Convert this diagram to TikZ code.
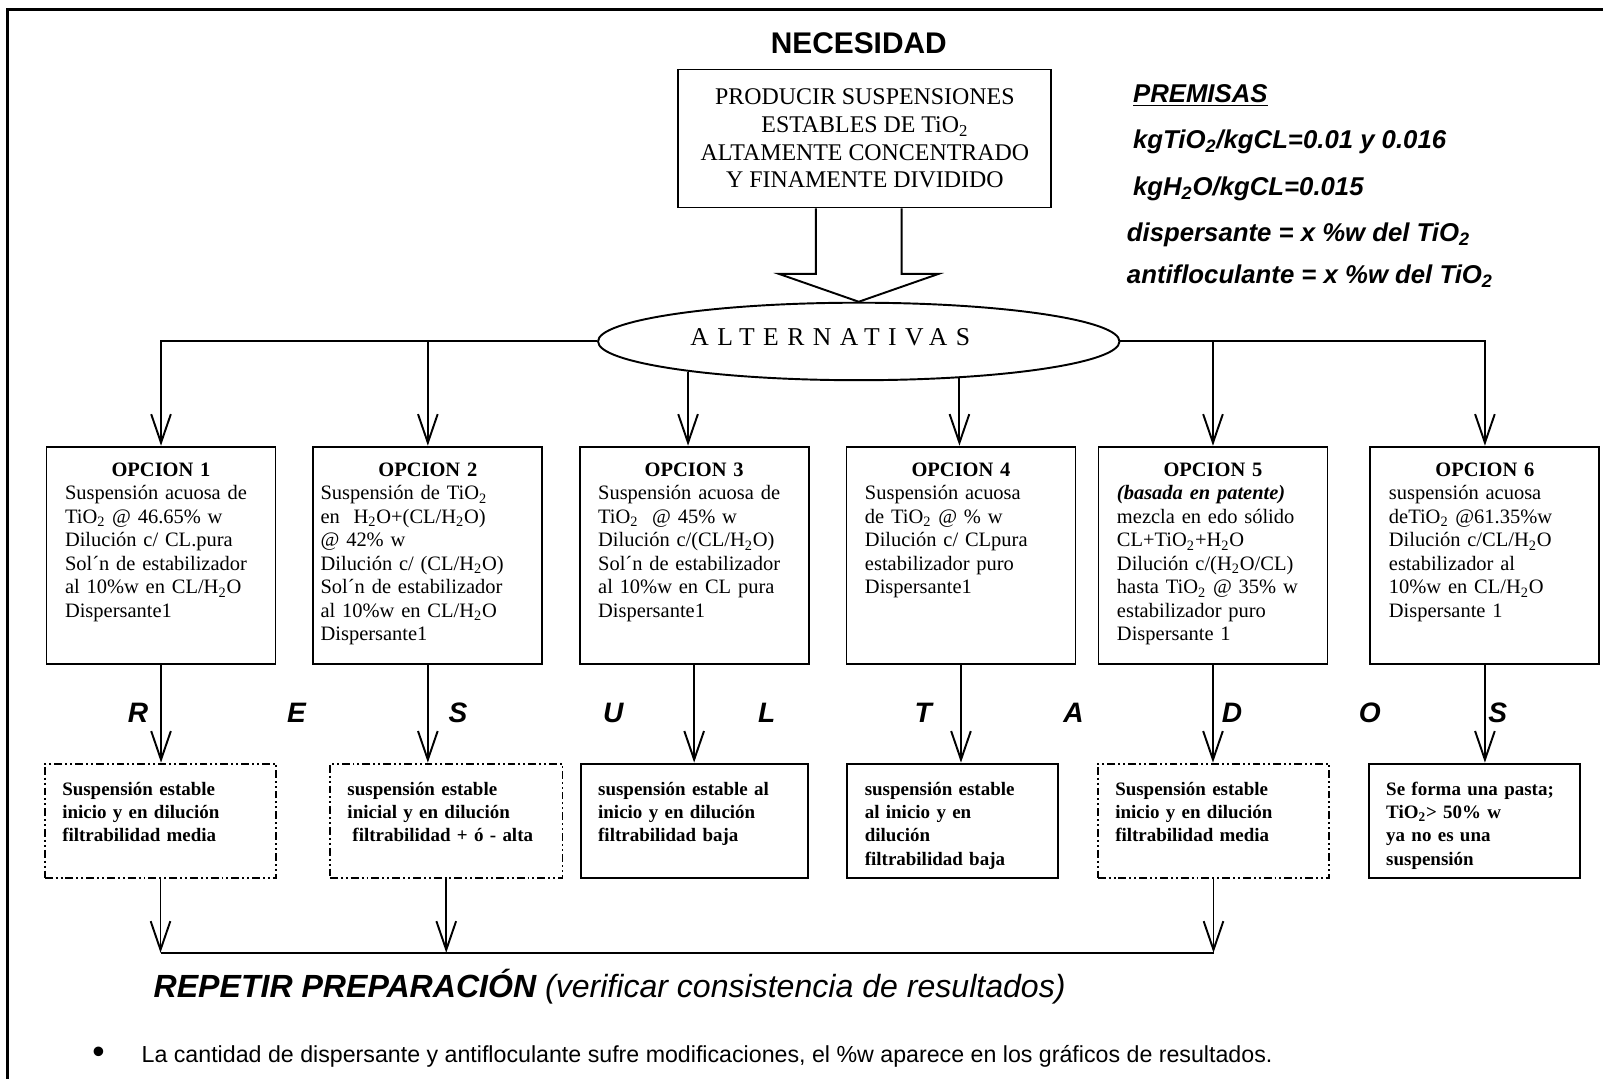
\documentclass[tikz,border=0pt]{standalone}
\usepackage{fontspec}
\setmainfont{Liberation Serif}
\newfontfamily\arialfont{Liberation Sans}
\usetikzlibrary{arrows.meta,shapes.geometric,calc}
\newcommand{\tio}{TiO\textsubscript{2}}
\newcommand{\hdo}{H\textsubscript{2}O}
\tikzset{box/.style={draw, line width=1.1pt},
opt/.style={box, anchor=north, align=left, text width=3.84cm, inner xsep=0.37cm,
  inner ysep=0.164cm, text height=0.43cm, text depth=3.58cm,
  font=\fontsize{11.65pt}{13.37pt}\selectfont},
res/.style={box, anchor=north, align=left, inner xsep=0.35cm, inner ysep=0.204cm,
  text height=0.43cm, text depth=1.45cm, font=\fontsize{10.8pt}{13.26pt}\selectfont\bfseries},
dashdotbox/.style={dash pattern=on 4.5pt off 1.7pt on 1.1pt off 1.7pt on 1.1pt off 1.7pt},
letter/.style={font=\arialfont\fontsize{16pt}{16pt}\selectfont\bfseries\itshape},
prem/.style={anchor=west, inner sep=0pt, font=\arialfont\fontsize{14.65pt}{16pt}\selectfont\bfseries\itshape},
arr/.style={->, line width=1.1pt},
>={Straight Barb[length=16.3pt,width=11.2pt]}}

\begin{document}
\begin{tikzpicture}[x=0.02044cm, y=-0.02044cm]
        \useasboundingbox (0,0) rectangle (1568,1055);
        \draw[line width=1.6pt] (7,1055) -- (7,9) -- (1568,9);

        \node[font=\arialfont\fontsize{17pt}{17pt}\selectfont\bfseries] (nec) at (840,42) {NECESIDAD};
        \node[box, align=center, minimum width=7.46cm, minimum height=2.76cm,
              font=\fontsize{13.6pt}{15.7pt}\selectfont] (prod) at (846,135.5)
              {PRODUCIR SUSPENSIONES\\ESTABLES DE \tio\\ALTAMENTE CONCENTRADO\\Y FINAMENTE DIVIDIDO};
        \node[box, ellipse, minimum width=10.43cm, minimum height=1.55cm, inner sep=0pt,
              font=\fontsize{14.6pt}{16pt}\selectfont] (alt) at (840,334)
              {\hspace*{-1.14cm}\raisebox{5pt}{\addfontfeature{LetterSpace=33}ALTERNATIVAS}};

        \node[prem] (prem0) at (1108,93) {\underline{PREMISAS}};
        \node[prem] (prem1) at (1108,139) {kg\tio/kgCL=0.01 y 0.016};
        \node[prem] (prem2) at (1108,185) {kg\hdo/kgCL=0.015};
        \node[prem] (prem3) at (1102,230) {dispersante = x \%w del \tio};
        \node[prem] (prem4) at (1102,270) {antifloculante = x \%w del \tio};

        % opciones
        \node[opt] (op1) at (157.5,436) {\hfill\textbf{OPCION 1}\hfill\null\\
              Suspensión acuosa de\\ \tio{} @ 46.65\% w\\ Dilución c/ CL.pura\\
              Sol´n de estabilizador\\ al 10\%w en CL/\hdo\\ Dispersante1};
        \node[opt, inner xsep=0.143cm, text width=4.29cm] (op2) at (418.5,436) {\hfill\textbf{OPCION 2}\hfill\null\\
              Suspensión de \tio\\ en \ \hdo+(CL/\hdo)\\ @ 42\% w\\ Dilución c/ (CL/\hdo)\\
              Sol´n de estabilizador\\ al 10\%w en CL/\hdo\\ Dispersante1};
        \node[opt] (op3) at (679,436) {\hfill\textbf{OPCION 3}\hfill\null\\
              Suspensión acuosa de\\ \tio{} \ @ 45\% w\\ Dilución c/(CL/\hdo)\\
              Sol´n de estabilizador\\ al 10\%w en CL pura\\ Dispersante1};
        \node[opt] (op4) at (940,436) {\hfill\textbf{OPCION 4}\hfill\null\\
              Suspensión acuosa\\ de \tio{} @ \% w\\ Dilución c/ CLpura\\
              estabilizador puro\\ Dispersante1};
        \node[opt] (op5) at (1186.5,436) {\hfill\textbf{OPCION 5}\hfill\null\\
              \textbf{\textit{(basada en patente)}}\\ mezcla en edo sólido\\ CL+\tio+\hdo\\
              Dilución c/(\hdo/CL)\\ hasta \tio{} @ 35\% w\\ estabilizador puro\\ Dispersante 1};
        \node[opt] (op6) at (1452.5,436) {\hfill\textbf{OPCION 6}\hfill\null\\
              suspensión acuosa\\ de\tio{} @61.35\%w\\ Dilución c/CL/\hdo\\
              estabilizador al\\ 10\%w en CL/\hdo\\ Dispersante 1};

        % resultados
        \node[letter] (l1) at (135,697) {R};
        \node[letter] (l2) at (290,697) {E};
        \node[letter] (l3) at (448,697) {S};
        \node[letter] (l4) at (600,697) {U};
        \node[letter] (l5) at (750,697) {L};
        \node[letter] (l6) at (903,697) {T};
        \node[letter] (l7) at (1050,697) {A};
        \node[letter] (l8) at (1205,697) {D};
        \node[letter] (l9) at (1340,697) {O};
        \node[letter] (l10) at (1465,697) {S};

        \node[res, dashdotbox, text width=3.93cm] (res1) at (157,746)
              {Suspensión estable\\ inicio y en dilución\\ filtrabilidad media};
        \node[res, dashdotbox, text width=3.95cm] (res2) at (436.5,746)
              {suspensión estable\\ inicial y en dilución\\ \hspace*{0.1cm}filtrabilidad + ó - alta};
        \node[res, text width=3.84cm] (res3) at (679,746)
              {suspensión estable al\\ inicio y en dilución\\ filtrabilidad baja};
        \node[res, text width=3.52cm] (res4) at (932,746)
              {suspensión estable\\ al inicio y en\\ dilución\\ filtrabilidad baja};
        \node[res, dashdotbox, text width=3.93cm] (res5) at (1187,746)
              {Suspensión estable\\ inicio y en dilución\\ filtrabilidad media};
        \node[res, text width=3.52cm] (res6) at (1442,746)
              {Se forma una pasta;\\ \tio> 50\% w\\ ya no es una\\ suspensión};

        \node[anchor=west, inner sep=0pt, font=\arialfont\fontsize{18.25pt}{18pt}\selectfont\itshape] (rep) at (150,965)
              {\textbf{REPETIR PREPARACIÓN} (verificar consistencia de resultados)};
        \node[anchor=west, inner sep=0pt, font=\arialfont\fontsize{13.2pt}{14pt}\selectfont] (nota) at (90,1033)
              {\raisebox{-1pt}{\fontsize{20pt}{14pt}\selectfont\textbullet}\hspace{0.74cm}La cantidad de dispersante y antifloculante sufre modificaciones, el \%w aparece en los gráficos de resultados.};

        % flecha de necesidad
        \coordinate (tail) at (prod.south -| alt.north);
        \draw[line width=1.1pt] ($(tail)+(-42,0)$) -- ++(0,64) -- ++(-36,0) -- (alt.north)
              -- ($(tail)+(78,64)$) -- ++(-36,0) -- ($(tail)+(42,0)$);

        \draw[arr] (alt.west) -| (op1.north);
        \draw[arr] (alt.west -| op2.north) -- (op2.north);
        \draw[arr] (alt.190) -- (alt.190 |- op3.north);
        \draw[arr] (alt.340) -- (alt.340 |- op4.north);
        \draw[arr] (alt.east -| op5.north) -- (op5.north);
        \draw[arr] (alt.east) -| (op6.north);

        \draw[arr] (op1.south) -- (op1.south |- res1.north);
        \draw[arr] (op2.south) -- (op2.south |- res2.north);
        \draw[arr] (op3.south) -- (op3.south |- res3.north);
        \draw[arr] (op4.south) -- (op4.south |- res4.north);
        \draw[arr] (op5.south) -- (op5.south |- res5.north);
        \draw[arr] (op6.south) -- (op6.south |- res6.north);

        \coordinate (join) at (0,932);
        \draw[arr] (res1.south) -- (res1.south |- join);
        \draw[arr] (res2.south) -- (res2.south |- join);
        \draw[arr] (res5.south) -- (res5.south |- join);
        \draw[line width=1.1pt] (res1.south |- join) -- (res5.south |- join);
\end{tikzpicture}
\end{document}
